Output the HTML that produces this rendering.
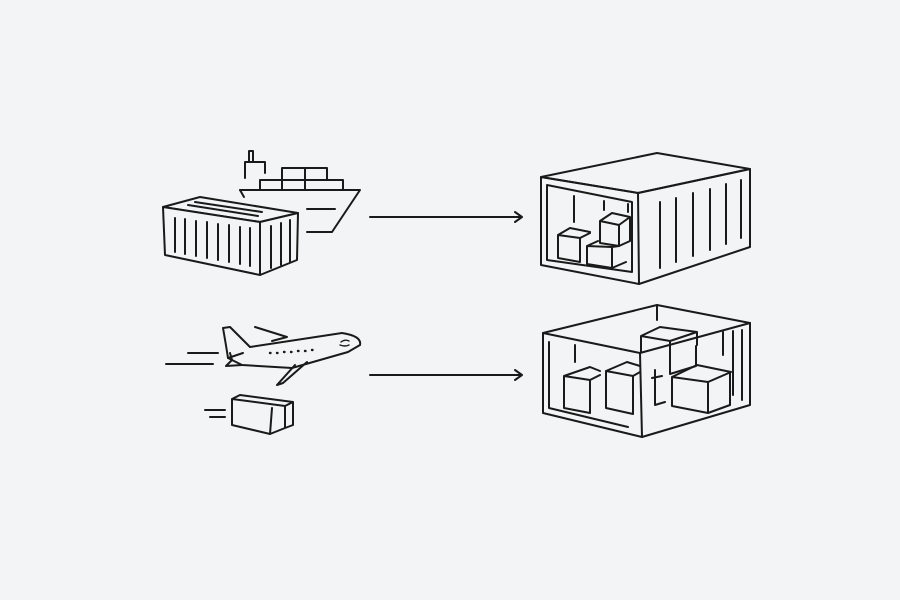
<!DOCTYPE html>
<html><head><meta charset="utf-8"><style>
html,body{margin:0;padding:0;background:#f3f4f5;}
svg{display:block}
</style></head><body>
<svg width="900" height="600" viewBox="0 0 900 600" xmlns="http://www.w3.org/2000/svg">
<rect width="900" height="600" fill="#f3f4f5"/>
<g fill="none" stroke="#1a1a1a" stroke-width="2" stroke-linejoin="round" stroke-linecap="round">
<!-- ship -->
<path d="M249,162 V151 H253 V162"/>
<path d="M245,178 V162 H265 V173"/>
<path d="M260,190 V180 H343 V190"/>
<path d="M282,180 V168 H327 V180 M305,168 V190 M282,180 V190"/>
<path d="M240,190 H360 L332,232 H307"/>
<path d="M240,190 L244,197"/>
<path d="M307,209 H335"/>
<!-- container top-left -->
<path d="M163,207 L200,197 L298,213 L260,222 Z" fill="#f3f4f5"/>
<path d="M163,207 L260,222 L260,275 L165,255 Z" fill="#f3f4f5"/>
<path d="M260,222 L298,213 L297,260 L260,275 Z" fill="#f3f4f5"/>
<path d="M188,205 L258,216 M195,202 L262,212"/>
<path d="M175,218 V252 M185,219 V254 M196,221 V256 M207,222 V258 M218,224 V260 M229,225 V262 M240,227 V264 M250,228 V266"/>
<path d="M271,226 V268 M281,223 V265 M290,220 V262"/>
<!-- arrows -->
<path d="M370,217 H522 M515,212 L522,217 L515,222"/>
<path d="M370,375 H522 M515,370 L522,375 L515,380"/>
<!-- container top-right -->
<path d="M541,177 L657,153 L750,169 L638,193 Z"/>
<path d="M541,177 L638,193 L639,284 L541,265 Z"/>
<path d="M638,193 L750,169 L750,247 L639,284"/>
<path d="M547,185 L632,202 L632,272 L547,260 Z"/>
<path d="M574,196 V222 M604,201 V210 M628,204 V212"/>
<path d="M660,202 V268 M676,198 V262 M693,193 V256 M710,189 V250 M726,184 V244 M741,180 V238"/>
<path d="M600,221 L612,213 L630,217 L630,241 L619,246 L600,243 Z M600,221 L619,225 L630,217 M619,225 V246"/>
<path d="M558,235 L570,228 L590,232 M558,235 V258 L580,262 V238 L558,235 M580,238 L590,233"/>
<path d="M587,246 L598,241 M587,246 V264 L612,268 V247 L587,246 M612,247 L619,246 M612,268 L626,262"/>
<!-- container bottom-right -->
<path d="M543,333 L657,305 L750,323 L640,353 Z"/>
<path d="M543,333 V413 L642,437 L640,353"/>
<path d="M642,437 L750,405 V323"/>
<path d="M549,342 V408 L628,427"/>
<path d="M657,305 V320"/>
<path d="M575,345 V362 M723,332 V355 M733,331 V395 M742,330 V400"/>
<path d="M641,336 L660,327 L697,332 L670,341 Z M641,336 V352 M670,341 V374 L696,366 V346 M697,332 V345"/>
<path d="M564,376 L590,367 L600,371 M564,376 V408 L590,413 V380 L564,376 M590,380 L600,375"/>
<path d="M606,371 L627,362 L640,366 M606,371 V408 L633,414 V376 L606,371 M633,376 L640,372"/>
<path d="M655,370 V405 L665,402 M652,378 L662,376"/>
<path d="M672,377 L697,365 L731,372 L708,382 Z M672,377 V406 L708,413 V382 M708,413 L730,405 V372"/>
<!-- plane -->
<path d="M223,328 L230,327 L250,347 L342,333 Q362,336 360,345 L348,352 L292,368 L242,365 L228,358 Q226,345 223,328 Z" fill="#f3f4f5"/>
<path d="M255,327 L287,337 L272,341"/>
<path d="M228,358 L243,353 M230,353 L232,360 L226,366 L242,365"/>
<path d="M295,365 L277,385 L283,383 L307,362"/>
<path d="M270,353 h.5 M277,353 h.5 M284,352 h.5 M291,352 h.5 M298,351 h.5 M305,351 h.5 M312,350 h.5" stroke-width="2.4"/>
<path d="M341,342 q4,-3 8,-1 M340,345 q5,2 9,0" stroke-width="1.4"/>
<path d="M188,353 H218 M166,364 H213"/>
<!-- small box -->
<path d="M232,399 L240,395 L293,402 L285,406 Z M232,399 V425 L270,434 L285,428 V406 M270,434 L272,408 M293,402 V425 L285,428"/>
<path d="M205,410 H225 M210,417 H225"/>
</g>
</svg>
</body></html>
